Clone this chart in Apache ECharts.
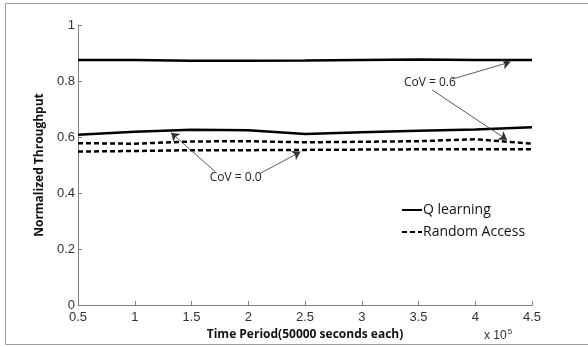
<!DOCTYPE html>
<html>
<head>
<meta charset="utf-8">
<script src="https://cdn.jsdelivr.net/npm/echarts@6/dist/echarts.min.js"></script>
<style>
  html, body { margin: 0; padding: 0; background: #fff; }
  #chart { width: 588px; height: 347px; }
</style>
</head>
<body>
<div id="chart"></div>
<script>
// time points (x 10^5)
var timePoints = [0.5, 1, 1.5, 2, 2.5, 3, 3.5, 4, 4.5];
var xTicks = ['0.5', '1', '1.5', '2', '2.5', '3', '3.5', '4', '4.5'];
var yTicks = ['0', '0.2', '0.4', '0.6', '0.8', '1'];

// Q learning
var qHigh = [0.875, 0.875, 0.872, 0.872, 0.873, 0.875, 0.877, 0.875, 0.875]; // CoV = 0.6
var qLow = [0.608, 0.619, 0.626, 0.624, 0.611, 0.617, 0.622, 0.627, 0.635];  // CoV = 0.0
// Random access
var raHigh = [0.578, 0.576, 0.584, 0.585, 0.581, 0.583, 0.585, 0.592, 0.576]; // CoV = 0.6
var raLow = [0.548, 0.550, 0.553, 0.553, 0.554, 0.555, 0.556, 0.556, 0.556];  // CoV = 0.0

function pairs(ys) {
  return timePoints.map(function (t, i) { return [t, ys[i]]; });
}

// annotation arrows: from, to, from, to
var annot06 = [[3.80, 0.807], [4.31, 0.868], [3.62, 0.768], [4.28, 0.590]];
var annot00 = [[1.71, 0.476], [1.32, 0.615], [2.10, 0.469], [2.46, 0.547]];

var myChart = echarts.init(document.getElementById('chart'));

function arrowLine(a) {
  return {
    silent: true,
    symbol: ['none', 'arrow'],
    symbolSize: 8,
    label: { show: false },
    lineStyle: { color: '#333', width: 0.8, type: 'solid' },
    itemStyle: { color: '#111' },
    animation: false,
    data: [
      [{ coord: a[0] }, { coord: a[1] }],
      [{ coord: a[2] }, { coord: a[3] }]
    ]
  };
}

function mkSeries(name, ys, dashed, extra) {
  var s = {
    name: name,
    type: 'line',
    data: pairs(ys),
    symbol: 'none',
    smooth: false,
    lineStyle: { color: '#000', width: 2.5, type: dashed ? [5, 3] : 'solid' },
    itemStyle: { color: '#000' }
  };
  if (extra) s.markLine = extra;
  return s;
}

var option = {
  animation: false,
  backgroundColor: '#fff',
  textStyle: { fontFamily: 'Liberation Sans' },
  grid: { left: 78, right: 56, top: 25, bottom: 42 },
  legend: {
    data: ['Q learning', 'Random Access'],
    orient: 'vertical',
    left: 396,
    top: 198,
    itemWidth: 20,
    itemHeight: 10,
    itemGap: 8,
    itemStyle: { opacity: 0 },
    textStyle: { color: '#111', fontSize: 14, fontFamily: 'Open Sans', padding: [0, 0, 0, -4] }
  },
  xAxis: {
    type: 'value',
    min: 0.5,
    max: 4.5,
    interval: 0.5,
    name: 'Time Period(50000 seconds each)',
    nameLocation: 'middle',
    nameGap: 22,
    nameTextStyle: { fontWeight: 'bold', fontSize: 12, color: '#111', fontFamily: 'Open Sans' },
    axisLine: { lineStyle: { color: '#808080', width: 1 } },
    axisTick: { inside: true, length: 4, lineStyle: { color: '#808080' } },
    splitLine: { show: false },
    axisLabel: {
      color: '#333', fontSize: 13, margin: 6,
      formatter: function (v) {
        var i = Math.round((v - 0.5) / 0.5);
        return xTicks[i] || '';
      }
    }
  },
  yAxis: {
    type: 'value',
    min: 0,
    max: 1,
    interval: 0.2,
    name: 'Normalized Throughput',
    nameLocation: 'middle',
    nameGap: 28,
    nameTextStyle: { fontWeight: 'bold', fontSize: 12, color: '#111', fontFamily: 'Open Sans' },
    axisLine: { show: true, lineStyle: { color: '#808080', width: 1 } },
    axisTick: { show: true, inside: true, length: 4, lineStyle: { color: '#808080' } },
    splitLine: { show: false },
    axisLabel: {
      color: '#333', fontSize: 13, margin: 3,
      formatter: function (v) {
        var i = Math.round(v / 0.2);
        return yTicks[i] || '';
      }
    }
  },
  series: [
    mkSeries('Q learning', qHigh, false, arrowLine(annot06)),
    mkSeries('Q learning', qLow, false, arrowLine(annot00)),
    mkSeries('Random Access', raHigh, true),
    mkSeries('Random Access', raLow, true)
  ],
  graphic: [
    {
      type: 'rect',
      silent: true,
      shape: { x: 5.5, y: 3.5, width: 600, height: 341 },
      style: { fill: 'none', stroke: '#a0a0a0', lineWidth: 1 }
    },
    {
      type: 'text',
      left: 484,
      top: 328,
      style: {
        text: 'x 10{s|5}',
        fill: '#333',
        font: '12px "Liberation Sans"',
        rich: { s: { fontSize: 8, verticalAlign: 'top', padding: [0, 0, 8, 1], fill: '#333' } }
      }
    }
  ]
};

myChart.setOption(option);

// annotation texts placed in data coordinates
function placeText(label, coord) {
  var p = myChart.convertToPixel({ gridIndex: 0 }, coord);
  return {
    type: 'text',
    x: p[0],
    y: p[1],
    style: {
      text: label,
      fill: '#222',
      font: '12px "Open Sans"',
      align: 'center',
      verticalAlign: 'middle',
      backgroundColor: '#fff',
      padding: [0, 1]
    }
  };
}

var g = option.graphic.slice();
g.push(placeText('CoV = 0.6', [3.60, 0.793]));
g.push(placeText('CoV = 0.0', [1.89, 0.455]));
myChart.setOption({ graphic: g });
</script>
</body>
</html>
